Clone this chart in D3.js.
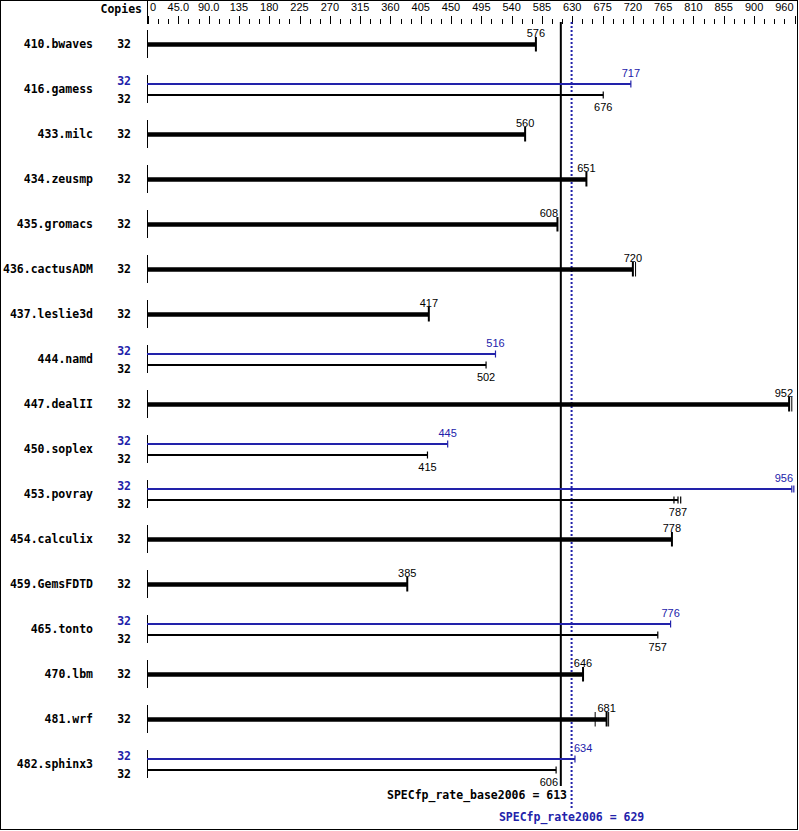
<!DOCTYPE html>
<meta charset="utf-8">
<style>
body { margin: 0; background: #fff; }
.name, .copies, .hdr { font-family: "DejaVu Sans Mono", "Liberation Mono", monospace; font-weight: bold; font-size: 11.5px; }
.val, .tick text { font-family: "Liberation Sans", Arial, sans-serif; font-size: 11px; }
</style>
<body>
<script src="https://d3js.org/d3.v7.min.js"></script>
<script>

var names = ["410.bwaves", "416.gamess", "433.milc", "434.zeusmp", "435.gromacs", "436.cactusADM",
  "437.leslie3d", "444.namd", "447.dealII", "450.soplex", "453.povray", "454.calculix",
  "459.GemsFDTD", "465.tonto", "470.lbm", "481.wrf", "482.sphinx3"];
var copies = [32, 32, 32, 32, 32, 32, 32, 32, 32, 32, 32, 32, 32, 32, 32, 32, 32];
var base = [576, 676, 560, 651, 608, 720, 417, 502, 952, 415, 787, 778, 385, 757, 646, 681, 606];
var peak = [null, 717, null, null, null, null, null, 516, null, 445, 956, null, null, 776, null, null, 634];
// other runs shown as extra end ticks
var baseRuns = [[576], [676], [560], [651], [608], [720, 724], [417], [502], [952, 956], [415],
  [781, 787, 791], [778], [385], [757], [646], [664, 681, 684], [606]];
var peakRuns = [null, [717], null, null, null, null, null, [516], null, [445], [956, 959],
  null, null, [776], null, null, [634]];
var tickLabels = ["0", "45.0", "90.0", "135", "180", "225", "270", "315", "360", "405", "450", "495",
  "540", "585", "630", "675", "720", "765", "810", "855", "900", "960"];
var tickValues = [0, 45, 90, 135, 180, 225, 270, 315, 360, 405, 450, 495, 540, 585, 630, 675, 720,
  765, 810, 855, 900, 960];
var baseMean = 613, peakMean = 629;

var width = 799, height = 831, blue = "#2222aa";

var x = d3.scaleLinear().domain([0, 960]).range([148, 794.5]);
var y = function(i) { return 44 + 45 * i; };

var svg = d3.select("body").append("svg")
    .attr("width", width)
    .attr("height", height);

svg.append("rect")
    .attr("x", 0.5).attr("y", 0.5)
    .attr("width", 797).attr("height", 829)
    .attr("fill", "#fff").attr("stroke", "#000");

// top axis
svg.append("text").attr("class", "hdr")
    .attr("x", 142).attr("y", 13).attr("text-anchor", "end").text("Copies");

svg.append("line")
    .attr("x1", 147.5).attr("x2", 147.5).attr("y1", 0).attr("y2", 24)
    .attr("stroke", "#000");

var minor = d3.range(0, 961, 15);
svg.selectAll(".mtick").data(minor).enter().append("line")
    .attr("x1", function(d) { return Math.round(x(d)) + 0.5; })
    .attr("x2", function(d) { return Math.round(x(d)) + 0.5; })
    .attr("y1", function(d) { return tickValues.indexOf(d) >= 0 ? 16 : 19; })
    .attr("y2", 24)
    .attr("stroke", "#000");

svg.selectAll(".tlab").data(tickValues).enter().append("text")
    .attr("class", "val")
    .attr("x", function(d, i) { return i === 0 ? x(d) + 2 : (d === 960 ? x(d) - 1 : x(d)); })
    .attr("y", 11)
    .attr("text-anchor", function(d, i) { return i === 0 ? "start" : (d === 960 ? "end" : "middle"); })
    .text(function(d, i) { return tickLabels[i]; });

// mean lines
svg.append("line")
    .attr("x1", x(baseMean)).attr("x2", x(baseMean)).attr("y1", 22).attr("y2", 786)
    .attr("stroke", "#000").attr("stroke-width", 2);
svg.append("line")
    .attr("x1", x(peakMean)).attr("x2", x(peakMean)).attr("y1", 22).attr("y2", 808)
    .attr("stroke", blue).attr("stroke-width", 2).attr("stroke-dasharray", "2,2");

// keep value labels off the mean lines and inside the frame
function labelPos(v) {
  var cx = x(v), w = 18;
  if (cx + w / 2 > 558 && cx - w / 2 < 574) {
    return cx < 566 ? [558, "end"] : [574, "start"];
  }
  if (cx + w / 2 > 793) return [793, "end"];
  return [cx, "middle"];
}

function addLabel(v, yy, color) {
  var p = labelPos(v);
  svg.append("text").attr("class", "val")
      .attr("x", p[0]).attr("y", yy)
      .attr("text-anchor", p[1])
      .attr("fill", color)
      .text(v);
}

names.forEach(function(n, i) {
  var cy = y(i);
  svg.append("text").attr("class", "name")
      .attr("x", 93).attr("y", cy).attr("dy", "0.35em")
      .attr("text-anchor", "end").text(n);

  svg.append("line")
      .attr("x1", 147.5).attr("x2", 147.5).attr("y1", cy - 14).attr("y2", cy + 14)
      .attr("stroke", "#000");

  if (peak[i] == null) {
    svg.append("text").attr("class", "copies")
        .attr("x", 131).attr("y", cy).attr("dy", "0.35em")
        .attr("text-anchor", "end").text(copies[i]);
    svg.append("line")
        .attr("x1", 147).attr("x2", x(base[i])).attr("y1", cy + 0.5).attr("y2", cy + 0.5)
        .attr("stroke", "#000").attr("stroke-width", 4.5);
    baseRuns[i].forEach(function(r) {
      svg.append("line")
          .attr("x1", x(r)).attr("x2", x(r)).attr("y1", cy - 7).attr("y2", cy + 7.5)
          .attr("stroke", "#000").attr("stroke-width", r === base[i] ? 2 : 1);
    });
    addLabel(base[i], cy - 7.5, "#000");
  } else {
    var yp = cy - 5, yb = cy + 7;
    svg.append("text").attr("class", "copies")
        .attr("x", 131).attr("y", cy - 8).attr("dy", "0.35em")
        .attr("text-anchor", "end").attr("fill", blue).text(copies[i]);
    svg.append("text").attr("class", "copies")
        .attr("x", 131).attr("y", cy + 10).attr("dy", "0.35em")
        .attr("text-anchor", "end").text(copies[i]);

    svg.append("line")
        .attr("x1", 147).attr("x2", x(peak[i])).attr("y1", yp).attr("y2", yp)
        .attr("stroke", blue).attr("stroke-width", 2);
    peakRuns[i].forEach(function(r) {
      svg.append("line")
          .attr("x1", x(r)).attr("x2", x(r)).attr("y1", yp - 3.5).attr("y2", yp + 3.5)
          .attr("stroke", blue).attr("stroke-width", 1.2);
    });
    addLabel(peak[i], yp - 7, blue);

    svg.append("line")
        .attr("x1", 147).attr("x2", x(base[i])).attr("y1", yb - 1).attr("y2", yb - 1)
        .attr("stroke", "#000").attr("stroke-width", 2);
    baseRuns[i].forEach(function(r) {
      svg.append("line")
          .attr("x1", x(r)).attr("x2", x(r)).attr("y1", yb - 4.5).attr("y2", yb + 2.5)
          .attr("stroke", "#000").attr("stroke-width", 1.2);
    });
    addLabel(base[i], yb + 15, "#000");
  }
});

svg.append("text").attr("class", "hdr")
    .attr("x", 567).attr("y", 799).attr("text-anchor", "end")
    .text("SPECfp_rate_base2006 = " + baseMean);
svg.append("text").attr("class", "hdr")
    .attr("x", x(peakMean)).attr("y", 821).attr("text-anchor", "middle")
    .attr("fill", blue)
    .text("SPECfp_rate2006 = " + peakMean);

</script>
